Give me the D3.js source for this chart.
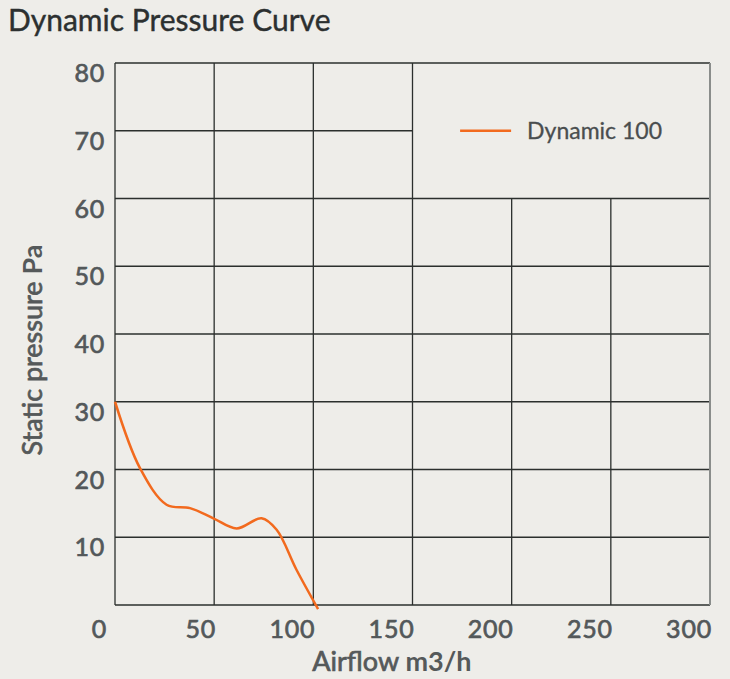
<!DOCTYPE html>
<html>
<head>
<meta charset="utf-8">
<script src="https://cdn.jsdelivr.net/npm/d3@7"></script>
<style>
  body { margin: 0; background: #eeede9; }
  svg { display: block; font-family: Lato, "Open Sans", sans-serif; }
  .tick-label { font-size: 25px; font-weight: 400; fill: #53585a; stroke: #53585a; stroke-width: 0.7px; letter-spacing: 0.8px; }
  .axis-label { font-weight: 700; fill: #55595a; }
  .semi { font-weight: 400; stroke: #55595a; stroke-width: 0.7px; }
</style>
</head>
<body>
<div id="chart"></div>
<script>
const xTicks = [0, 50, 100, 150, 200, 250, 300];
const yTicks = [0, 10, 20, 30, 40, 50, 60, 70, 80];
const airflow = [0, 12.6, 26, 37.8, 49.6, 61.3, 73.9, 81.5, 91.5, 102.4];
const pressure = [30, 20.2, 14.8, 14.3, 12.8, 11.3, 12.8, 11.1, 5.2, -0.6];
const seriesName = "Dynamic 100";

const W = 730, H = 679;
const margin = { top: 63, right: 20, bottom: 74, left: 115 },
      width = W - margin.left - margin.right,
      height = H - margin.top - margin.bottom;

const svg = d3.select("#chart").append("svg")
  .attr("width", W)
  .attr("height", H);

svg.append("text")
  .attr("x", 8)
  .attr("y", 31)
  .attr("font-size", 30)
  .attr("font-weight", 400)
  .attr("fill", "#2c3030")
  .attr("stroke", "#2c3030")
  .attr("stroke-width", 0.4)
  .text("Dynamic Pressure Curve");

const g = svg.append("g").attr("transform", `translate(${margin.left},${margin.top})`);

const x = d3.scaleLinear().domain([0, 300]).range([0, width]);
const y = d3.scaleLinear().domain([0, 80]).range([height, 0]);

// grid: top-right corner (x>150, y>60) is left open for the legend
const gridColor = "#2b2f2d";
yTicks.forEach(v => {
  const x1 = (v > 60 && v < 80) ? 150 : 300;
  g.append("line")
    .attr("x1", x(0)).attr("x2", x(x1))
    .attr("y1", y(v)).attr("y2", y(v))
    .attr("stroke", gridColor).attr("stroke-width", 1.3);
});
xTicks.forEach(v => {
  const top = (v > 150 && v < 300) ? 60 : 80;
  g.append("line")
    .attr("x1", x(v)).attr("x2", x(v))
    .attr("y1", y(0)).attr("y2", y(top))
    .attr("stroke", v === 300 ? "#8a8d8b" : gridColor)
    .attr("stroke-width", v === 300 ? 2 : 1.3);
});

// tick labels
g.selectAll(".ytick").data(yTicks.filter(d => d > 0)).enter()
  .append("text")
  .attr("class", "tick-label")
  .attr("x", -10)
  .attr("y", d => y(d) + 19)
  .attr("text-anchor", "end")
  .text(d => d);

g.selectAll(".xtick").data(xTicks).enter()
  .append("text")
  .attr("class", "tick-label")
  .attr("x", d => d === 0 ? x(d) - 8 : x(d) + 2)
  .attr("y", height + 33)
  .attr("text-anchor", "end")
  .text(d => d);

// axis titles
const xl = g.append("text")
  .attr("class", "axis-label")
  .attr("font-size", 27)
  .attr("x", x(100) - 1)
  .attr("y", height + 66);
xl.append("tspan").attr("class", "semi").text("Airflow ");
xl.append("tspan").text("m3/h");

const yl = svg.append("text")
  .attr("class", "axis-label")
  .attr("font-size", 27)
  .attr("transform", "rotate(-90)")
  .attr("x", -350)
  .attr("y", 42)
  .attr("text-anchor", "middle");
yl.append("tspan").attr("class", "semi").text("Static pressure ");
yl.append("tspan").text("Pa");

// curve
const pts = airflow.map((a, i) => [a, pressure[i]]);
const line = d3.line()
  .x(d => x(d[0]))
  .y(d => y(d[1]))
  .curve(d3.curveCatmullRom.alpha(0.5));

g.append("path")
  .datum(pts)
  .attr("fill", "none")
  .attr("stroke", "#f26a1e")
  .attr("stroke-width", 2.5)
  .attr("d", line);

// legend
const lg = g.append("g").attr("transform", `translate(${x(174)},${y(70)})`);
lg.append("line")
  .attr("x1", 0).attr("x2", 51)
  .attr("y1", 0).attr("y2", 0)
  .attr("stroke", "#f26a1e").attr("stroke-width", 2.5);
lg.append("text")
  .attr("x", 67)
  .attr("y", 8)
  .attr("font-size", 23)
  .attr("font-weight", 400)
  .attr("fill", "#4a4e4f")
  .attr("stroke", "#4a4e4f")
  .attr("stroke-width", 0.3)
  .text(seriesName);
</script>
</body>
</html>
